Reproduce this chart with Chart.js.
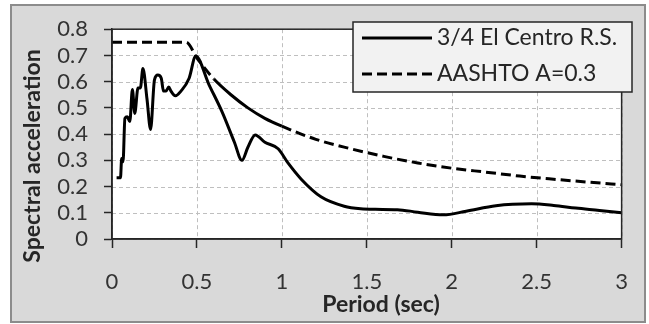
<!DOCTYPE html>
<html>
<head>
<meta charset="utf-8">
<script src="https://cdn.jsdelivr.net/npm/chart.js@4.4.1/dist/chart.umd.min.js"></script>
<style>
html,body{margin:0;padding:0;background:#fff;}
#wrap{width:649px;height:324px;position:relative;}
</style>
</head>
<body>
<div id="wrap"><canvas id="c" width="649" height="324"></canvas></div>
<script>
// Series 1: 3/4 El Centro response spectrum
const elCentroPeriod = [0.027,0.05,0.057,0.065,0.076,0.09,0.105,0.12,0.134,0.153,0.167,0.182,0.206,0.227,0.25,0.27,0.29,0.303,0.318,0.334,0.347,0.373,0.406,0.454,0.493,0.57,0.648,0.72,0.765,0.80,0.843,0.90,0.978,1.037,1.114,1.23,1.367,1.464,1.55,1.68,1.8,1.95,2.085,2.26,2.47,2.6,2.73,2.87,3.0];
const elCentroSa     = [0.234,0.234,0.307,0.295,0.46,0.466,0.448,0.57,0.479,0.576,0.576,0.65,0.534,0.418,0.607,0.625,0.613,0.564,0.564,0.58,0.564,0.546,0.564,0.613,0.698,0.59,0.485,0.37,0.30,0.35,0.397,0.369,0.344,0.289,0.228,0.161,0.125,0.115,0.113,0.112,0.102,0.092,0.106,0.127,0.134,0.128,0.118,0.109,0.10];
// Series 2: AASHTO A=0.3 design spectrum
const aashtoPeriod = [0.0,0.437,0.5,0.6,0.7,0.8,0.9,1.0,1.2,1.4,1.6,1.8,2.0,2.2,2.4,2.6,2.8,3.0];
const aashtoSa     = [0.75,0.75,0.69,0.61,0.55,0.50,0.46,0.43,0.38,0.345,0.315,0.29,0.27,0.255,0.24,0.228,0.217,0.207];
// Axis ticks
const xTicks = [0,0.5,1,1.5,2,2.5,3];
const yTicks = [0,0.1,0.2,0.3,0.4,0.5,0.6,0.7,0.8];
const seriesNames = ['3/4 El Centro R.S.','AASHTO A=0.3'];
const xTitle = 'Period (sec)';
const yTitle = 'Spectral acceleration';

const FONT = 'Lato, "Open Sans", sans-serif';
const toPts = (xs, ys) => xs.map((x, i) => ({x: x, y: ys[i]}));

const framePlugin = {
  id: 'frame',
  afterDatasetsDraw(chart) {
    const ctx = chart.ctx, a = chart.chartArea;
    ctx.save();
    ctx.setLineDash([]);
    ctx.strokeStyle = '#262626';
    ctx.lineWidth = 1.5;
    ctx.strokeRect(a.left, a.top, a.right - a.left, a.bottom - a.top);
    ctx.restore();
  },
  afterDraw(chart) {
    const ctx = chart.ctx, a = chart.chartArea;
    // axis titles
    ctx.save();
    ctx.fillStyle = '#262626';
    ctx.font = 'bold 23px ' + FONT;
    ctx.textAlign = 'center';
    ctx.textBaseline = 'middle';
    ctx.fillText(xTitle, 381, 305);
    ctx.translate(33, 156);
    ctx.rotate(-Math.PI / 2);
    ctx.fillText(yTitle, 0, 0);
    ctx.restore();
    // legend box
    ctx.save();
    const lx = 353, ly = 22, lw = 279, lh = 70;
    ctx.fillStyle = '#f2f2f2';
    ctx.fillRect(lx, ly, lw, lh);
    ctx.strokeStyle = '#262626';
    ctx.lineWidth = 1.5;
    ctx.strokeRect(lx, ly, lw, lh);
    const rows = [38, 74];
    chart.data.datasets.forEach((d, i) => {
      ctx.beginPath();
      ctx.setLineDash(d.legendDash || []);
      ctx.lineWidth = 3;
      ctx.strokeStyle = '#000';
      ctx.moveTo(362, rows[i]);
      ctx.lineTo(432, rows[i]);
      ctx.stroke();
      ctx.setLineDash([]);
      ctx.fillStyle = '#262626';
      ctx.font = '23px ' + FONT;
      ctx.textAlign = 'left';
      ctx.textBaseline = 'middle';
      ctx.fillText(d.label, 437, rows[i]);
    });
    ctx.restore();

    // everything below is painted BEHIND what is already drawn
    ctx.save();
    ctx.globalCompositeOperation = 'destination-over';
    // dashed grid lines at the scale ticks
    const xs = chart.scales.x, ys = chart.scales.y;
    ctx.fillStyle = '#bfbfbf';
    xTicks.forEach(v => {
      const px = Math.round(xs.getPixelForValue(v));
      for (let y = a.top; y < a.bottom; y += 7) {
        ctx.fillRect(px, y, 1, Math.min(4, a.bottom - y));
      }
    });
    yTicks.forEach(v => {
      const py = Math.round(ys.getPixelForValue(v));
      for (let x = a.left; x < a.right; x += 7) {
        ctx.fillRect(x, py, Math.min(4, a.right - x), 1);
      }
    });
    // white plot area
    ctx.fillStyle = '#ffffff';
    ctx.fillRect(a.left, a.top, a.right - a.left, a.bottom - a.top);
    // gray outer frame with border
    ctx.strokeStyle = '#8c8c8c';
    ctx.lineWidth = 2;
    ctx.strokeRect(11, 5, 634, 317);
    ctx.fillStyle = '#d9d9d9';
    ctx.fillRect(11, 5, 634, 317);
    // page background
    ctx.fillStyle = '#ffffff';
    ctx.fillRect(0, 0, chart.width, chart.height);
    ctx.restore();
  }
};

new Chart(document.getElementById('c'), {
  type: 'line',
  data: {
    datasets: [
      {
        label: seriesNames[0],
        data: toPts(elCentroPeriod, elCentroSa),
        borderColor: '#000',
        borderWidth: 3,
        pointRadius: 0,
        cubicInterpolationMode: 'monotone',
        fill: false,
        legendDash: []
      },
      {
        label: seriesNames[1],
        data: toPts(aashtoPeriod, aashtoSa),
        borderColor: '#000',
        borderWidth: 3,
        borderDash: [10, 5],
        pointRadius: 0,
        cubicInterpolationMode: 'monotone',
        fill: false,
        legendDash: [10, 5],
        segment: {
          borderDash: c => (c.p0.parsed.x >= 0.6 && c.p1.parsed.x <= 1.0) ? [] : [10, 5]
        }
      }
    ]
  },
  options: {
    responsive: false,
    animation: false,
    events: [],
    layout: { padding: { left: 0, right: 22, top: 21, bottom: 0 } },
    plugins: { legend: { display: false }, tooltip: { enabled: false } },
    scales: {
      x: {
        type: 'linear',
        min: 0, max: 3,
        afterFit: s => { s.height = 85; },
        afterBuildTicks: s => { s.ticks = xTicks.map(v => ({value: v})); },
        border: { display: true, color: '#262626', width: 1.5 },
        grid: {
          color: '#c4c4c4', lineWidth: 1, tickLength: 9, tickColor: '#262626',
          tickWidth: 1.5, drawTicks: true, drawOnChartArea: false
        },
        ticks: {
          padding: 21, color: '#333333', autoSkip: false, maxRotation: 0,
          font: { family: FONT, size: 22 },
          callback: v => String(v)
        }
      },
      y: {
        type: 'linear',
        min: 0, max: 0.8,
        afterFit: s => { s.width = 112; },
        afterBuildTicks: s => { s.ticks = yTicks.map(v => ({value: v})); },
        border: { display: true, color: '#262626', width: 1.5 },
        grid: {
          color: '#c4c4c4', lineWidth: 1, tickLength: 8, tickColor: '#262626',
          tickWidth: 1.5, drawTicks: true, drawOnChartArea: false
        },
        ticks: {
          padding: 16, color: '#333333', autoSkip: false,
          font: { family: FONT, size: 22 },
          callback: v => String(v)
        }
      }
    }
  },
  plugins: [framePlugin]
});
</script>
</body>
</html>
